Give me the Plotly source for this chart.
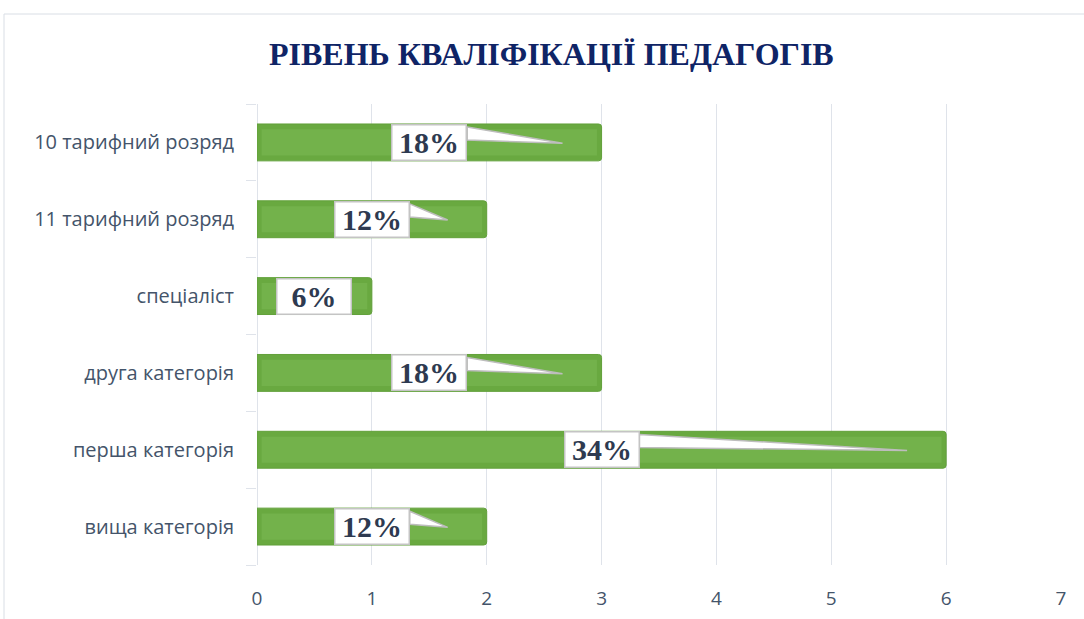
import plotly.graph_objects as go

categories = ["вища категорія", "перша категорія", "друга категорія",
              "спеціаліст", "11 тарифний розряд", "10 тарифний розряд"]
values = [2, 6, 3, 1, 2, 3]
percent_labels = ["12%", "34%", "18%", "6%", "12%", "18%"]
x_ticks = [0, 1, 2, 3, 4, 5, 6, 7]

W, H = 1084, 619
ML, MR, MT, MB = 257, 23, 104, 54
pw, ph = W - ML - MR, H - MT - MB

pos = list(range(len(categories)))

fig = go.Figure()
fig.add_trace(go.Bar(
    x=values, y=pos, orientation="h", width=0.48,
    marker=dict(color="#69a940", line=dict(color="#62a03a", width=1), cornerradius=3),
    hoverinfo="skip", showlegend=False,
))
fig.add_trace(go.Bar(
    x=[v - 0.08 for v in values], base=[0.04] * len(values), y=pos, orientation="h", width=0.34,
    marker=dict(color="#73b24b", line=dict(width=0)),
    hoverinfo="skip", showlegend=False,
))

shapes = []
annotations = []
for p, v, lab in zip(pos, values, percent_labels):
    cx = v / 2
    right = cx + 0.33
    tip = v - 0.34
    if tip > right:
        path = f"M {right},{p + 0.2} L {tip},{p - 0.01} L {right},{p + 0.03} Z"
        shapes.append(dict(type="path", path=path, xref="x", yref="y",
                           fillcolor="white", line=dict(color="#bdbdbd", width=1.5),
                           layer="above"))
    annotations.append(dict(
        x=cx, y=p, xref="x", yref="y", text=f"<b>{lab}</b>", showarrow=False,
        font=dict(family="Liberation Serif", size=30, color="#2e3a50"),
        bgcolor="white", bordercolor="#c4c4c4", borderwidth=1.5, borderpad=0,
        width=73, height=34, align="center", valign="middle",
    ))

# outer chart border
shapes.append(dict(type="rect", xref="paper", yref="paper",
                   x0=(4 - ML) / pw, x1=(1095 - ML) / pw,
                   y0=(H - MB - 630) / ph, y1=(H - MB - 14) / ph,
                   line=dict(color="#d9dee5", width=1), fillcolor="rgba(0,0,0,0)",
                   layer="below"))

annotations.append(dict(
    x=(551 - ML) / pw, y=(H - MB - 54) / ph, xref="paper", yref="paper",
    text="<b>РІВЕНЬ КВАЛІФІКАЦІЇ ПЕДАГОГІВ</b>", showarrow=False,
    font=dict(family="Liberation Serif", size=32, color="#0f2466"),
    xanchor="center", yanchor="middle",
))

fig.update_layout(
    width=W, height=H,
    margin=dict(l=ML, r=MR, t=MT, b=MB, autoexpand=False),
    paper_bgcolor="white", plot_bgcolor="white",
    barmode="overlay",
    shapes=shapes, annotations=annotations,
    xaxis=dict(range=[0, 7], tickvals=x_ticks, showgrid=True, gridcolor="#dfe3ea",
               gridwidth=1, zeroline=True, zerolinecolor="#dfe3ea", zerolinewidth=1,
               showline=False, ticks="", ticklabelstandoff=20, automargin=False,
               tickfont=dict(family="Open Sans", size=19, color="#44546a")),
    yaxis=dict(range=[-0.5, 5.5], tickmode="array", tickvals=pos, ticktext=categories,
               showgrid=False, zeroline=False, showline=False, ticks="",
               ticklabelstandoff=22, automargin=False,
               tickfont=dict(family="Open Sans", size=20, color="#44546a"),
               minor=dict(tickmode="array", tickvals=[i - 0.5 for i in range(len(categories) + 1)],
                          ticks="outside", ticklen=10, tickcolor="#dfe3ea", tickwidth=1,
                          showgrid=False)),
)

fig.write_html("out.html")
